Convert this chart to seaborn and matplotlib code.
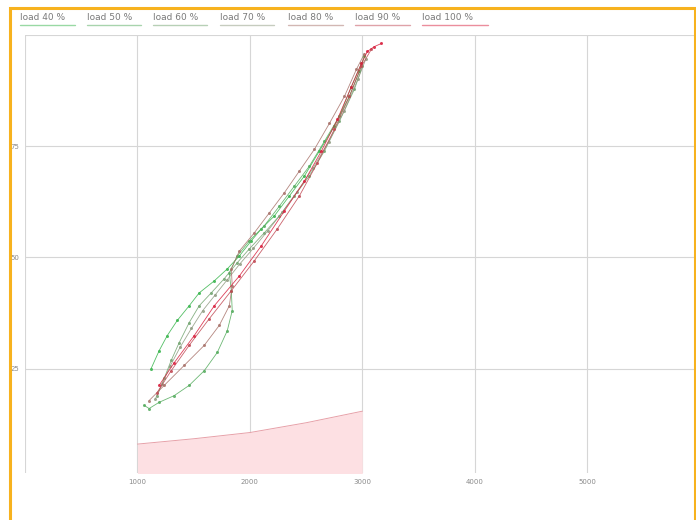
import matplotlib
matplotlib.use("Agg")
import matplotlib.pyplot as plt
from matplotlib.lines import Line2D
from matplotlib.patches import Rectangle
import seaborn as sns
import pandas as pd

# series (x = flow, y = value)
loads = ['load 40 %', 'load 50 %', 'load 60 %', 'load 70 %', 'load 80 %', 'load 90 %', 'load 100 %']

x40 = [1122, 1193, 1265, 1354, 1460, 1549, 1683, 1799, 1906, 2012, 2102, 2217, 2351, 2485, 2618, 2752, 2885, 2974, 3019]
y40 = [25.0, 29.0, 32.4, 35.8, 39.1, 42.0, 44.7, 47.4, 50.3, 53.7, 56.4, 59.3, 63.8, 68.3, 73.9, 79.5, 86.2, 91.8, 95.2]

x50 = [1060, 1104, 1193, 1327, 1460, 1594, 1710, 1799, 1843, 1835, 1817, 1888, 1995, 2128, 2262, 2395, 2529, 2663, 2796, 2903, 2992]
y50 = [16.7, 16.0, 17.4, 18.9, 21.2, 24.5, 28.6, 33.5, 38.0, 42.5, 46.5, 50.3, 53.7, 57.1, 61.5, 66.0, 70.5, 76.1, 81.7, 88.4, 93.6]

x60 = [1175, 1238, 1300, 1371, 1460, 1549, 1656, 1772, 1888, 1995, 2128, 2262, 2395, 2529, 2663, 2796, 2930, 3001]
y60 = [18.9, 22.8, 26.8, 30.8, 35.3, 39.1, 42.0, 45.2, 48.8, 51.9, 55.5, 59.3, 63.8, 68.3, 73.9, 80.6, 87.8, 93.0]

x70 = [1160, 1220, 1290, 1380, 1480, 1580, 1690, 1800, 1910, 2030, 2160, 2290, 2420, 2560, 2700, 2840, 2960, 3030]
y70 = [18.2, 21.5, 25.5, 29.8, 34.0, 38.0, 41.5, 45.0, 48.5, 52.0, 56.0, 60.2, 64.8, 70.0, 76.0, 83.0, 90.0, 94.5]

x80 = [1104, 1238, 1416, 1594, 1728, 1817, 1843, 1835, 1906, 2039, 2173, 2306, 2440, 2574, 2707, 2841, 2948, 3019]
y80 = [17.8, 21.2, 25.7, 30.2, 34.7, 39.1, 43.6, 47.4, 51.4, 55.5, 60.0, 64.5, 69.4, 74.3, 80.1, 86.2, 92.3, 95.8]

x90 = [1175, 1300, 1460, 1639, 1835, 2039, 2244, 2440, 2600, 2752, 2885, 2992, 3081]
y90 = [19.6, 24.5, 30.2, 36.2, 42.5, 49.2, 56.4, 63.8, 71.2, 78.8, 86.2, 93.0, 96.8]

x100 = [1193, 1327, 1505, 1683, 1906, 2102, 2306, 2485, 2636, 2778, 2903, 2992, 3045, 3108, 3170]
y100 = [21.2, 26.3, 32.4, 39.1, 45.8, 52.6, 60.4, 67.1, 73.9, 81.0, 88.4, 93.6, 96.3, 97.4, 98.1]

# shaded band at the bottom
band_x = [1000, 1500, 2000, 2500, 3000]
band_y = [8.0, 9.2, 10.6, 12.8, 15.4]

xs = [x40, x50, x60, x70, x80, x90, x100]
ys = [y40, y50, y60, y70, y80, y90, y100]
frames = []
for name, xx, yy in zip(loads, xs, ys):
    frames.append(pd.DataFrame({'flow': xx, 'value': yy, 'load': name}))
df = pd.concat(frames, ignore_index=True)

palette = sns.blend_palette(['#35b44a', '#8f9a80', '#d81e3c'], 7)

sns.set_style('white')
fig = plt.figure(figsize=(6.96, 5.2), dpi=100)
ax = fig.add_axes([25 / 696, 1 - 473 / 520, 669 / 696, (473 - 35) / 520])

ax.fill_between(band_x, 0, band_y, color='#fde0e3', lw=0)
ax.plot(band_x, band_y, color='#e7a0a8', lw=0.7)

sns.lineplot(data=df, x='flow', y='value', hue='load', hue_order=loads, palette=palette,
             sort=False, estimator=None, units='load', marker='o', markersize=2.2,
             markeredgewidth=0, lw=0.6, alpha=0.85, legend=False, ax=ax)

ax.set_xlim(0, 5950)
ax.set_ylim(1.5, 100)
ax.set_xticks([0, 1000, 2000, 3000, 4000, 5000])
ax.set_xticklabels(['', '1000', '2000', '3000', '4000', '5000'])
ax.set_yticks([25, 50, 75, 100])
ax.set_yticklabels(['25', '50', '75', ''])
ax.grid(True, color='#d6d6d6', lw=0.8)
ax.tick_params(axis='both', labelsize=5, colors='#8a8a8a', length=3, pad=1)
for s in ax.spines.values():
    s.set_visible(False)
ax.set_xlabel('')
ax.set_ylabel('')

# legend across the top: grey text, coloured underline
starts = [20, 87, 153, 220, 288, 355, 422]
widths = [55, 54, 54, 54, 55, 55, 66]
for name, col, sx, w in zip(loads, palette, starts, widths):
    fig.text(sx / 696, 1 - 18 / 520, name, fontsize=6.5, color='#7a7a7a', va='center', ha='left')
    fig.add_artist(Line2D([sx / 696, (sx + w) / 696], [1 - 25 / 520, 1 - 25 / 520],
                          color=col, lw=1, alpha=0.5))

# orange frame around the figure
fig.patches.append(Rectangle((10 / 696, -0.02), 685 / 696, 1 - 8 / 520 + 0.02, transform=fig.transFigure,
                             fill=False, edgecolor='#f7b21e', lw=2.2))

fig.savefig('out.png', dpi=100)
